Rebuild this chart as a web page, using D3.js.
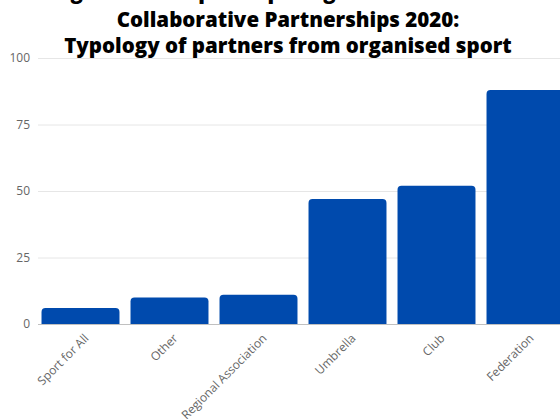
<!DOCTYPE html>
<html>
<head>
<meta charset="utf-8">
<script src="https://cdn.jsdelivr.net/npm/d3@7"></script>
<style>
  body { margin: 0; background: #fff; }
  svg { display: block; font-family: "Open Sans", sans-serif; }
</style>
</head>
<body>
<div id="chart"></div>
<script>
const categories = ["Sport for All", "Other", "Regional Association", "Umbrella", "Club", "Federation"];
const values = [6, 10, 11, 47, 52, 88];
const yTicks = [0, 25, 50, 75, 100];
const titleLines = [
  "Organisations participating in Erasmus+ Small",
  "Collaborative Partnerships 2020:",
  "Typology of partners from organised sport"
];

const width = 560, height = 419;
const svg = d3.select("#chart").append("svg")
  .attr("width", width)
  .attr("height", height);

const x = d3.scaleBand()
  .domain(categories)
  .range([36, 570])
  .paddingInner(0.124)
  .paddingOuter(0.062);

const y = d3.scaleLinear()
  .domain([0, 100])
  .range([324, 58]);

// grid
svg.append("g")
  .selectAll("line")
  .data(yTicks.filter(d => d > 0))
  .enter().append("line")
  .attr("x1", 38).attr("x2", width)
  .attr("y1", d => y(d) + 0.5).attr("y2", d => y(d) + 0.5)
  .style("stroke", "#e6e6e6");

// y labels
svg.append("g")
  .selectAll("text")
  .data(yTicks)
  .enter().append("text")
  .attr("x", 30)
  .attr("y", d => y(d) + 4)
  .attr("text-anchor", "end")
  .style("font-size", "12px")
  .style("fill", "#666")
  .text(d => d);

// bars with rounded tops
const r = 4;
svg.append("g")
  .selectAll("path")
  .data(values)
  .enter().append("path")
  .attr("d", (d, i) => {
    const x0 = x(categories[i]), w = x.bandwidth();
    const y0 = y(d), y1 = y(0);
    return `M${x0},${y1}V${y0 + r}Q${x0},${y0} ${x0 + r},${y0}H${x0 + w - r}Q${x0 + w},${y0} ${x0 + w},${y0 + r}V${y1}Z`;
  })
  .style("fill", "#004aad");

// baseline
svg.append("line")
  .attr("x1", 38).attr("x2", width)
  .attr("y1", y(0) + 0.5).attr("y2", y(0) + 0.5)
  .style("stroke", "#c0c0c0");

// x labels
svg.append("g")
  .selectAll("text")
  .data(categories)
  .enter().append("text")
  .attr("transform", d => `translate(${x(d) + x.bandwidth() / 2 + 9},${y(0) + 15}) rotate(-45)`)
  .attr("text-anchor", "end")
  .style("font-size", "12px")
  .style("fill", "#666")
  .text(d => d);

// title (first line sits above the top edge, as in the source)
svg.append("g")
  .selectAll("text")
  .data(titleLines)
  .enter().append("text")
  .attr("x", 288)
  .attr("y", (d, i) => i == 0 ? -1 : 1 + i * 26)
  .attr("text-anchor", "middle")
  .style("font-size", "20.5px")
  .style("font-weight", "800")
  .style("fill", "#000")
  .text(d => d);
</script>
</body>
</html>
